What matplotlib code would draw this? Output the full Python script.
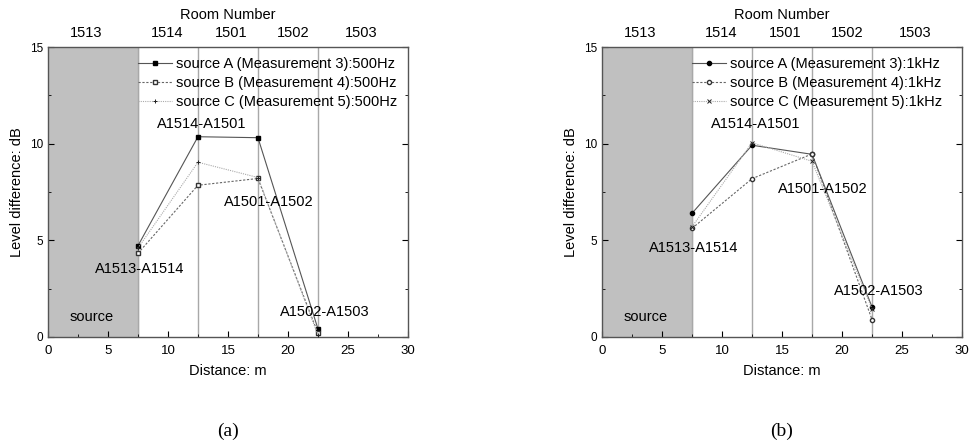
import numpy as np
import matplotlib.pyplot as plt

plt.rcParams['font.family'] = ['Liberation Sans', 'DejaVu Sans']

# measurement positions (m)
distance = [7.5, 12.5, 17.5, 22.5]

# (a) 500 Hz
a_src_a = [4.72, 10.36, 10.31, 0.42]
a_src_b = [4.33, 7.85, 8.20, 0.20]
a_src_c = [4.60, 9.04, 8.25, 0.10]

# (b) 1 kHz
b_src_a = [6.40, 9.92, 9.45, 1.55]
b_src_b = [5.62, 8.19, 9.47, 0.90]
b_src_c = [5.70, 10.05, 9.09, 1.45]

rooms = ['1513', '1514', '1501', '1502', '1503']
room_pos = [3.2, 9.9, 15.3, 20.4, 26.1]

pair_labels = ['A1513-A1514', 'A1514-A1501', 'A1501-A1502', 'A1502-A1503']
a_label_xy = [(7.65, 3.5), (12.8, 11.0), (18.4, 7.0), (23.1, 1.28)]
b_label_xy = [(7.6, 4.6), (12.8, 11.0), (18.4, 7.65), (23.1, 2.38)]


def draw_panel(ax, ya, yb, yc, freq, label_xy, caption):
    ax.axvspan(0, 7.5, color='#c0c0c0', zorder=0)
    for xv in [7.5, 12.5, 17.5, 22.5]:
        ax.axvline(xv, color='#a8a8a8', lw=1.0, zorder=1)

    if freq == '500Hz':
        ma, mb, mc = 's', 's', '+'
    else:
        ma, mb, mc = 'o', 'o', 'x'
    ax.plot(distance, ya, color='#555555', lw=0.8, marker=ma,
            ms=3, mfc='black', mec='black',
            label=f'source A (Measurement 3):{freq}', zorder=3)
    ax.plot(distance, yb, color='#666666', lw=0.8, ls=(0, (2, 1.5)), marker=mb,
            ms=3, mfc='white', mec='#333333',
            label=f'source B (Measurement 4):{freq}', zorder=3)
    ax.plot(distance, yc, color='#aaaaaa', lw=0.8, ls=(0, (1, 1)), marker=mc,
            ms=3.5, mec='#222222', mew=0.7,
            label=f'source C (Measurement 5):{freq}', zorder=3)

    for txt, (tx, ty) in zip(pair_labels, label_xy):
        ax.text(tx, ty, txt, ha='center', va='center', fontsize=10.5, zorder=4)
    ax.text(3.6, 1.05, 'source', ha='center', va='center', fontsize=10.5)

    ax.set_xlim(0, 30)
    ax.set_ylim(0, 15)
    ax.set_xticks(np.arange(0, 31, 5))
    ax.set_xticks(np.arange(0, 31, 2.5), minor=True)
    ax.set_yticks([0, 5, 10, 15])
    ax.set_yticks(np.arange(0, 15.1, 2.5), minor=True)
    ax.tick_params(which='both', direction='in', top=False, right=True, length=4)
    ax.tick_params(which='minor', length=2.5)
    ax.tick_params(axis='x', labelsize=9.5, pad=6)
    ax.tick_params(axis='y', labelsize=8.5)
    for s in ax.spines.values():
        s.set_color('#555555')
        s.set_linewidth(1.0)
    ax.set_xlabel('Distance: m', fontsize=10.5, labelpad=5)
    ax.set_ylabel('Level difference: dB', fontsize=10.5, labelpad=4)

    top = ax.secondary_xaxis('top')
    top.set_xticks(room_pos)
    top.set_xticklabels(rooms, fontsize=10.5)
    top.tick_params(length=0, pad=5)
    top.set_xlabel('Room Number', fontsize=10.5, labelpad=5)
    top.spines['top'].set_visible(False)

    ax.legend(loc='upper left', bbox_to_anchor=(0.23, 0.99), frameon=False,
              fontsize=10.5, handlelength=2.3, handletextpad=0.3,
              labelspacing=0.33, borderaxespad=0.2, borderpad=0.3)

    ax.text(0.5, -0.325, caption, transform=ax.transAxes, ha='center', va='center',
            fontsize=14, family='Liberation Serif')


fig = plt.figure(figsize=(9.69, 4.48), dpi=100)
ax1 = fig.add_axes([0.0495, 0.2478, 0.3715, 0.6472])
ax2 = fig.add_axes([0.6213, 0.2478, 0.3715, 0.6472])

draw_panel(ax1, a_src_a, a_src_b, a_src_c, '500Hz', a_label_xy, '(a)')
draw_panel(ax2, b_src_a, b_src_b, b_src_c, '1kHz', b_label_xy, '(b)')

fig.savefig('out.png', dpi=100)
